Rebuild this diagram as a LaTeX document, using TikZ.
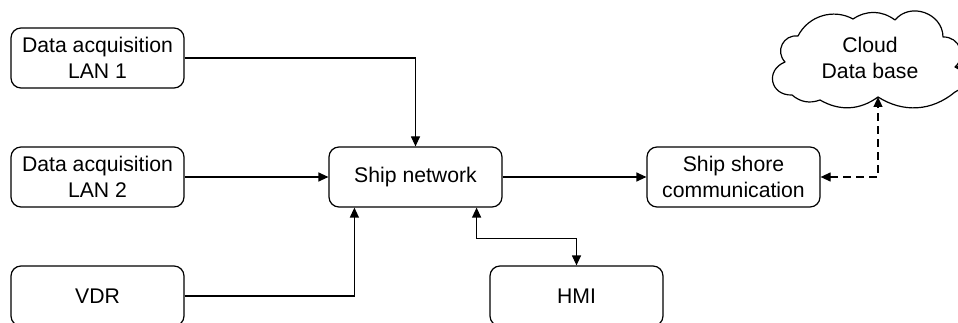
\documentclass[tikz,border=0pt]{standalone}
\usepackage{fontspec}
\setmainfont{Liberation Sans}
\usetikzlibrary{arrows.meta}
\begin{document}
\begin{tikzpicture}[x=1pt,y=-1pt,
  every node/.style={font=\fontsize{21.2}{26}\selectfont, align=center},
  blk/.style={draw, line width=1.2pt, rounded corners=10pt, minimum width=173pt, minimum height=60pt, inner sep=0pt},
  arr/.style={line width=1.2pt, -{Triangle[length=10pt,width=9pt]}},
  biarr/.style={line width=1.2pt, {Triangle[length=10pt,width=9pt]}-{Triangle[length=10pt,width=9pt]}},
  dsh/.style={dash pattern=on 8pt off 5pt},
  cloudline/.style={line width=1.2pt, line join=round}]
\useasboundingbox (0,0) rectangle (958,323);
\node[blk] (lan1) at (97.5,58) {Data acquisition\\LAN 1};
\node[blk] (lan2) at (97.5,177) {Data acquisition\\LAN 2};
\node[blk] (vdr) at (97.5,296) {VDR};
\node[blk] (ship) at (415.5,177) {Ship network};
\node[blk] (shore) at (733.5,177) {Ship shore\\communication};
\node[blk] (hmi) at (576.5,296) {HMI};
% cloud outline
\coordinate (cin) at (878,97);
\coordinate (ctip) at (955,67);
\coordinate (coff) at (995,67);
\draw[cloudline] (798,36) to[bend left=46] (853,19) to[bend left=35] (895,20)
  to[bend left=70,looseness=1.2] (943,37) to[bend left=70,looseness=1.3] (ctip)
  to[bend left=70,looseness=1.3] (955,92) to[bend left=36] (cin)
  to[bend left=33] (820,100) to[bend left=30] (792,95)
  to[bend left=80,looseness=1.65] (785,62) to[bend left=70,looseness=1.3] (798,36) -- cycle;
\node (cloud) at (870,58) {Cloud\\Data base};
\draw[arr] (lan1.east) -| (ship.north);
\draw[arr] (lan2.east) -- (ship.west);
\draw[arr] (vdr.east) -| ([xshift=26pt]ship.south west);
\draw[biarr] ([xshift=-26pt]ship.south east) -- ++(0,31) -| (hmi.north);
\draw[arr] (ship.east) -- (shore.west);
\draw[biarr, dsh] (shore.east) -| (cin);
\draw[arr] (coff) -- (ctip);
\end{tikzpicture}
\end{document}
